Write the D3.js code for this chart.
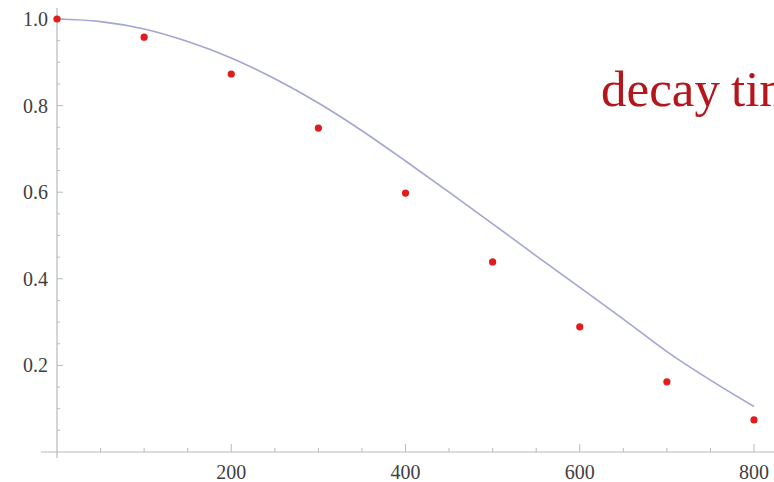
<!DOCTYPE html>
<html>
<head>
<meta charset="utf-8">
<script src="https://cdn.jsdelivr.net/npm/d3@7"></script>
<style>
  html, body { margin: 0; padding: 0; background: #fff; overflow: hidden; }
  svg { display: block; }
</style>
</head>
<body>
<div id="chart"></div>
<script>
// measured points
var pointT = [0, 100, 200, 300, 400, 500, 600, 700, 800];
var pointV = [1.0, 0.958, 0.873, 0.748, 0.598, 0.439, 0.289, 0.162, 0.074];

// curve, every 50
var curveT = [0, 50, 100, 150, 200, 250, 300, 350, 400, 450, 500, 550, 600, 650, 700, 750, 800];
var curveV = [1.0, 0.994, 0.977, 0.948, 0.910, 0.862, 0.806, 0.742, 0.672, 0.600, 0.527, 0.453, 0.380, 0.307, 0.232, 0.166, 0.105];

var xTicks = [200, 400, 600, 800];
var yTicks = [0.2, 0.4, 0.6, 0.8, 1.0];
var labelWords = ["decay", "time"];

var width = 774, height = 482;

var x = d3.scaleLinear().domain([0, 800]).range([57, 754]);
var y = d3.scaleLinear().domain([0, 1]).range([452, 19]);

var svg = d3.select("#chart").append("svg")
    .attr("width", width)
    .attr("height", height);

var axisColor = "#b3bcbc";
var textColor = "#3f3f3f";
var serif = "'Liberation Serif', 'DejaVu Serif', serif";

// axis lines
svg.append("line")
    .attr("x1", x(0) - 16).attr("x2", width)
    .attr("y1", y(0)).attr("y2", y(0))
    .attr("stroke", axisColor).attr("stroke-width", 1.2);
svg.append("line")
    .attr("x1", x(0)).attr("x2", x(0))
    .attr("y1", y(0) + 6).attr("y2", 8)
    .attr("stroke", axisColor).attr("stroke-width", 1.2);

// x ticks, minor every 50
var xMinor = d3.range(50, 850, 50);
svg.selectAll(".xtick")
    .data(xMinor)
    .enter().append("line")
    .attr("class", "xtick")
    .attr("x1", function (d) { return x(d); })
    .attr("x2", function (d) { return x(d); })
    .attr("y1", y(0))
    .attr("y2", function (d) { return d % 200 === 0 ? y(0) - 8 : y(0) - 4; })
    .attr("stroke", axisColor).attr("stroke-width", 1);

svg.selectAll(".xlabel")
    .data(xTicks)
    .enter().append("text")
    .attr("class", "xlabel")
    .attr("x", function (d) { return x(d); })
    .attr("y", y(0) + 27)
    .attr("text-anchor", "middle")
    .attr("font-family", serif)
    .attr("font-size", 20)
    .attr("fill", textColor)
    .text(function (d) { return d; });

// y ticks, minor every 0.05
var yMinor = d3.range(1, 21).map(function (i) { return i * 0.05; });
svg.selectAll(".ytick")
    .data(yMinor)
    .enter().append("line")
    .attr("class", "ytick")
    .attr("y1", function (d) { return y(d); })
    .attr("y2", function (d) { return y(d); })
    .attr("x1", x(0))
    .attr("x2", function (d, i) { return (i + 1) % 4 === 0 ? x(0) + 6 : x(0) + 3; })
    .attr("stroke", axisColor).attr("stroke-width", 1);

svg.selectAll(".ylabel")
    .data(yTicks)
    .enter().append("text")
    .attr("class", "ylabel")
    .attr("x", x(0) - 9)
    .attr("y", function (d) { return y(d); })
    .attr("dy", "0.35em")
    .attr("text-anchor", "end")
    .attr("font-family", serif)
    .attr("font-size", 20)
    .attr("fill", textColor)
    .text(function (d) { return d.toFixed(1); });

// curve
var line = d3.line()
    .x(function (d, i) { return x(curveT[i]); })
    .y(function (d) { return y(d); })
    .curve(d3.curveCatmullRom);

svg.append("path")
    .datum(curveV)
    .attr("fill", "none")
    .attr("stroke", "#a3a5d2")
    .attr("stroke-width", 1.6)
    .attr("d", line);

// points
svg.selectAll(".pt")
    .data(pointV)
    .enter().append("circle")
    .attr("class", "pt")
    .attr("cx", function (d, i) { return x(pointT[i]); })
    .attr("cy", function (d) { return y(d); })
    .attr("r", 3.6)
    .attr("fill", "#e01c1c");

// label, runs off the right edge like the original
var label = svg.append("text")
    .attr("y", 106)
    .attr("font-family", serif)
    .attr("font-size", 51)
    .attr("fill", "#b5161b");

var word1 = label.append("tspan").attr("x", 601).text(labelWords[0]);
label.append("tspan").attr("x", 731).text(labelWords[1]);

// stretch the first word a little, the original font is wider
var w = word1.node().getComputedTextLength();
word1.attr("letter-spacing", Math.max(0, (107 - w) / labelWords[0].length));
</script>
</body>
</html>
